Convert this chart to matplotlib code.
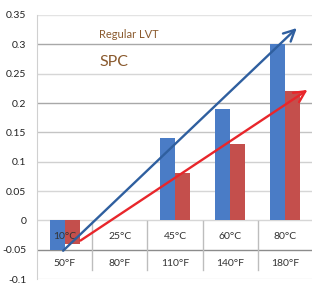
import matplotlib
matplotlib.use('Agg')
import matplotlib.pyplot as plt
import numpy as np

plt.rcParams['font.family'] = ['Lato', 'DejaVu Sans']

# Datos
temp_c = ['10°C', '25°C', '45°C', '60°C', '80°C']
temp_f = ['50°F', '80°F', '110°F', '140°F', '180°F']
regular_lvt = [-0.05, 0.0, 0.14, 0.19, 0.30]
spc = [-0.04, 0.0, 0.08, 0.13, 0.22]
y_ticks = [0.35, 0.3, 0.25, 0.2, 0.15, 0.1, 0.05, 0, -0.05, -0.1]
y_labels = ['0.35', '0.3', '0.25', '0.2', '0.15', '0.1', '0.05', '0', '-0.05', '-0.1']
# flechas de tendencia (inicio, fin)
flecha_azul = [(-0.07, -0.055), (4.25, 0.331)]
flecha_roja = [(0.24, -0.037), (4.45, 0.225)]

fig = plt.figure(figsize=(3.12, 2.88), dpi=100)
ax = fig.add_axes([0.12, 0.031, 0.88, 0.917])

x = np.arange(len(temp_c))
ancho = 0.27

# Grilla con distintos tonos de gris
grises = ['#e3e3e3', '#a8a8a8', '#d6d6d6', '#a8a8a8', '#c4c4c4',
          '#d0d0d0', '#d6d6d6', '#d6d6d6', '#8c8c8c', '#e6e6e6']
for yt, g in zip(y_ticks, grises):
    ax.axhline(yt, color=g, lw=1, zorder=0)

ax.bar(x - ancho/2, regular_lvt, ancho, color='#4a7cc6', zorder=2)
ax.bar(x + ancho/2, spc, ancho, color='#c44f4c', zorder=2)

# Separadores de la tabla de categorías
for b in np.arange(0.5, len(temp_c) - 0.5, 1):
    ax.plot([b, b], [-0.001, -0.084], color='#bdbdbd', lw=1, zorder=1)

for i in range(len(temp_c)):
    ax.text(x[i], -0.028, temp_c[i], ha='center', va='center',
            fontsize=7.5, color='#333333', zorder=3)
    ax.text(x[i], -0.074, temp_f[i], ha='center', va='center',
            fontsize=7.5, color='#333333', zorder=3)

# Flechas
ax.annotate('', xy=flecha_azul[1], xytext=flecha_azul[0],
            arrowprops=dict(arrowstyle='->,head_length=0.8,head_width=0.4',
                            color='#2f5f9f', lw=1.7), zorder=4)
ax.annotate('', xy=flecha_roja[1], xytext=flecha_roja[0],
            arrowprops=dict(arrowstyle='->,head_length=0.8,head_width=0.4',
                            color='#e8262b', lw=1.7), zorder=4)

ax.text(0.62, 0.3175, 'Regular LVT', fontsize=8, color='#8a5a2e', va='center')
ax.text(0.62, 0.27, 'SPC', fontsize=11.5, color='#8a5a2e', va='center')

ax.set_xlim(-0.5, 4.49)
ax.set_ylim(-0.1, 0.35)
ax.set_xticks([])
ax.set_yticks(y_ticks)
ax.set_yticklabels(y_labels, fontsize=7.5, color='#222222')
ax.tick_params(axis='y', length=0, pad=8)
for s in ['top', 'right', 'bottom']:
    ax.spines[s].set_visible(False)
ax.spines['left'].set_color('#d0d0d0')

fig.savefig('out.png', dpi=100)
